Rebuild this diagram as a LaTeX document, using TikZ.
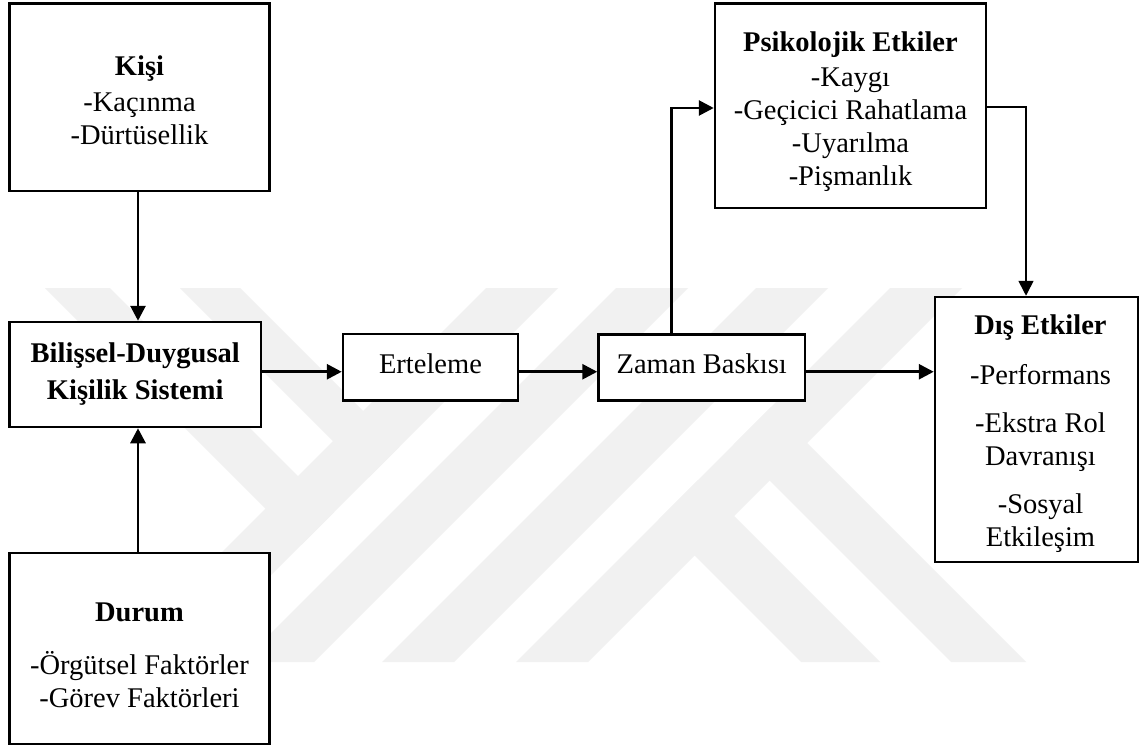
\documentclass[tikz,border=0pt]{standalone}
\usepackage{fontspec}
\setmainfont{Liberation Serif}
\usetikzlibrary{arrows.meta}
\definecolor{wmark}{RGB}{241,241,241}
% invisible struts that move a node's text up or down
\newcommand{\topstrut}[1]{\rule{0pt}{#1}}
\newcommand{\botstrut}[1]{\rule[-#1]{0pt}{0pt}}
\begin{document}
\begin{tikzpicture}[x=1bp,y=-1bp,
  box/.style={draw, fill=white, line width=2.5bp, inner sep=0pt, align=center,
    font=\fontsize{28.5bp}{33bp}\selectfont},
  arr/.style={line width=2.8bp, -{Triangle[length=15bp,width=15bp]}},
  thinarr/.style={line width=1.6bp, -{Triangle[length=15bp,width=15bp]}}]
\useasboundingbox (0,0) rectangle (1142,749);
\fill[white] (0,0) rectangle (1142,749);

% background emblem: diagonal bands
\begin{scope}[wmark]
  \fill (486,288) -- (558,288) -- (184,662) -- (112,662) -- cycle;
  \fill (616,288) -- (688,288) -- (314,662) -- (242,662) -- cycle;
  \fill (756,288) -- (828,288) -- (454,662) -- (382,662) -- cycle;
  \fill (890,288) -- (962,288) -- (588,662) -- (516,662) -- cycle;
  \fill (45,288) -- (110,288) -- (334,512) -- (301.5,544.5) -- cycle;
  \fill (180,288) -- (240,288) -- (399,447) -- (369,477) -- cycle;
  \fill (771,407) -- (1026,662) -- (951,662) -- (733.5,444.5) -- cycle;
  \fill (698,480) -- (880,662) -- (801,662) -- (658.5,519.5) -- cycle;
\end{scope}

% boxes
\node[box, minimum width=260bp, minimum height=187.5bp] (kisi) at (139.5,97.25)
  {\topstrut{26bp}\textbf{Kişi}\\[3bp]-Kaçınma\\-Dürtüsellik};
\node[box, minimum width=251.5bp, minimum height=105bp] (bil) at (135.25,374.5)
  {\textbf{Bilişsel-Duygusal}\\[4bp]\textbf{Kişilik Sistemi}};
\node[box, minimum width=260bp, minimum height=191bp] (durum) at (139.5,648.5)
  {\topstrut{32bp}\textbf{Durum}\\[20bp]-Örgütsel Faktörler\\-Görev Faktörleri};
\node[box, minimum width=175bp, minimum height=66.5bp] (ert) at (430.5,367.25)
  {Erteleme\botstrut{8bp}};
\node[box, minimum width=206.5bp, minimum height=66bp] (zaman) at (701.75,367.5)
  {Zaman Baskısı\botstrut{8bp}};
\node[box, minimum width=271bp, minimum height=204.7bp] (psi) at (850.5,105.7)
  {\topstrut{32bp}\textbf{Psikolojik Etkiler}\\[2bp]-Kaygı\\-Geçicici Rahatlama\\-Uyarılma\\-Pişmanlık};
\node[box, minimum width=203bp, minimum height=265bp] (dis) at (1036.5,429.5)
  {\topstrut{28bp}\hspace*{8bp}\textbf{Dış Etkiler}\\[17bp]\hspace*{8bp}-Performans\\[15bp]\hspace*{8bp}-Ekstra Rol\\\hspace*{8bp}Davranışı\\[15bp]\hspace*{8bp}-Sosyal\\\hspace*{8bp}Etkileşim};

% connectors
\draw[arr] ([xshift=-1.5bp]kisi.south) -- ([xshift=-1.5bp]kisi.south |- bil.north);
\draw[arr] ([xshift=-1.5bp]durum.north) -- ([xshift=-1.5bp]durum.north |- bil.south);
\coordinate (mid) at ([yshift=-4.5bp]ert.west);
\draw[arr] (bil.east |- mid) -- (mid);
\draw[arr] (ert.east |- mid) -- (zaman.west |- mid);
\draw[arr] (zaman.east |- mid) -- (dis.west |- mid);
\draw[arr] ([xshift=-30bp]zaman.north) |- ([yshift=-2.3bp]psi.west);
\draw[thinarr] ([yshift=-1.3bp]psi.east) -| ([xshift=-10.5bp]dis.north);
\end{tikzpicture}
\end{document}
